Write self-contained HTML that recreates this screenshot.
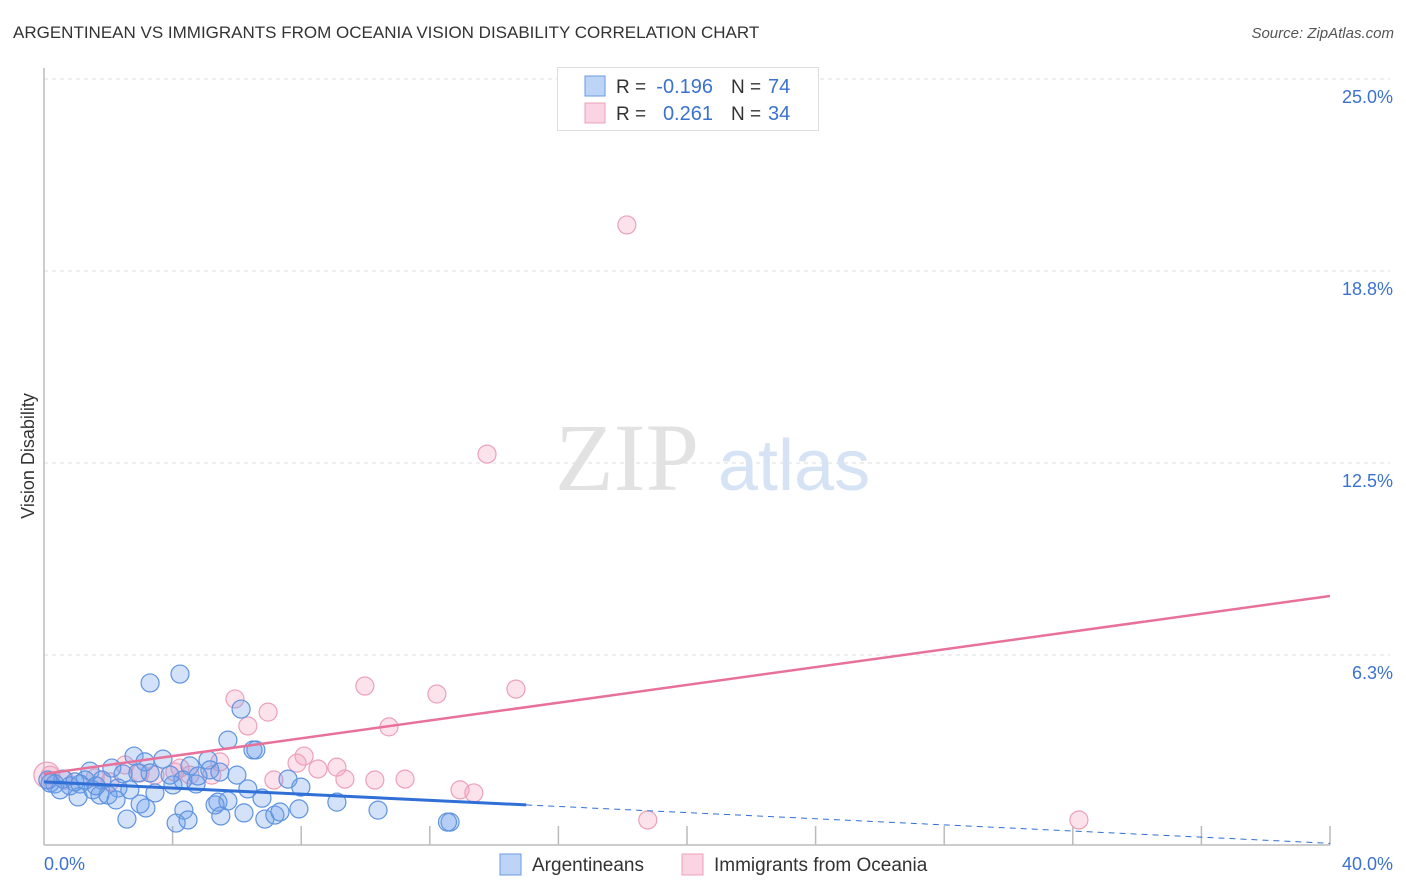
<!DOCTYPE html>
<html><head><meta charset="utf-8">
<style>
body{margin:0;background:#fff;font-family:"Liberation Sans",sans-serif;}
#wrap{position:relative;width:1406px;height:892px;overflow:hidden;}
.t{position:absolute;white-space:nowrap;}
</style></head>
<body>
<div id="wrap">
<div class="t" style="left:13px;top:23px;font-size:17px;color:#333;">ARGENTINEAN VS IMMIGRANTS FROM OCEANIA VISION DISABILITY CORRELATION CHART</div>
<div class="t" style="right:12px;top:25px;font-size:15px;color:#555;font-style:italic;">Source: ZipAtlas.com</div>
<svg id="plot" width="1406" height="892" style="position:absolute;left:0;top:0;font-family:'Liberation Sans',sans-serif;"></svg>
</div>
<script>
const xTicks=[0,4,8,12,16,20,24,28,32,36,40];
const yTicks=[6.25,12.5,18.75,25];
const yTickLabels=["6.3%","12.5%","18.8%","25.0%"];
const blueX=[3.30,4.23,6.13,5.72,6.50,6.59,2.80,3.70,3.14,5.10,2.11,1.43,6.00,7.59,7.99,4.73,5.16,2.46,1.80,0.59,0.34,0.81,1.12,1.52,2.30,2.67,3.45,1.74,1.99,1.06,2.24,2.99,4.01,4.32,4.54,5.41,5.72,6.78,9.11,6.34,4.35,3.17,2.58,4.11,4.48,5.50,6.22,6.87,7.18,7.34,7.93,10.39,12.63,0.19,0.50,1.28,1.62,0.96,5.47,4.79,3.92,3.30,2.92,5.32,0.12,12.55];
const blueY=[5.34,5.63,4.49,3.48,3.16,3.16,2.96,2.86,2.77,2.83,2.57,2.47,2.34,2.21,1.95,2.05,2.51,2.38,2.18,2.21,2.05,1.99,2.05,1.86,1.92,1.86,1.76,1.69,1.69,1.63,1.53,1.40,2.02,2.18,2.64,1.46,1.50,1.59,1.46,1.89,1.20,1.27,0.91,0.78,0.88,1.01,1.11,0.91,1.04,1.14,1.24,1.20,0.81,2.08,1.86,2.18,1.99,2.12,2.44,2.31,2.34,2.41,2.41,1.37,2.18,0.81];
const pinkX=[18.13,13.78,5.94,9.98,12.22,14.68,6.97,6.34,10.73,8.09,7.87,8.52,9.11,5.47,7.15,9.36,10.29,11.23,12.94,13.37,18.78,32.19,0.19,0.65,2.05,2.52,3.45,4.07,4.54,5.22,1.59,2.99,4.23,0.09];
const pinkY=[20.25,12.79,4.82,5.24,4.98,5.14,4.39,3.94,3.91,2.96,2.73,2.54,2.60,2.77,2.18,2.21,2.18,2.21,1.86,1.76,0.88,0.88,2.34,2.18,2.12,2.67,2.34,2.44,2.34,2.34,2.25,2.41,2.57,2.34];
const blueTrend=[2.12,-0.05];
const pinkTrend=[2.38,0.1448];

const X0=44,X1=1330,Y0=847,YPER=30.72;
const sx=v=>X0+(X1-X0)*v/40;
const sy=v=>Y0-v*YPER;
const svg=document.getElementById('plot');
const NS='http://www.w3.org/2000/svg';
function mk(tag,attrs){const e=document.createElementNS(NS,tag);for(const k in attrs)e.setAttribute(k,attrs[k]);svg.appendChild(e);return e;}

// gridlines
yTicks.forEach((v,i)=>{
 const g=mk('line',{x1:X0,x2:1390,y1:sy(v),y2:sy(v),stroke:'#ddd','stroke-dasharray':'4,4'});
 
 
 const t=mk('text',{x:1393,y:sy(v)+24,'text-anchor':'end','font-size':18,fill:'#3a72d0'});
 t.textContent=yTickLabels[i];
 
 
});
// axes
const ax=mk('line',{x1:X0,x2:X1,y1:845,y2:845,stroke:'#bbb','stroke-width':1.5});


const ay=mk('line',{x1:X0,x2:X0,y1:68,y2:845,stroke:'#bbb','stroke-width':1.5});


xTicks.forEach(v=>{
 if(v===0)return;
 const t=mk('line',{x1:sx(v),x2:sx(v),y1:826,y2:845,stroke:'#bbb','stroke-width':1.5});
 
 
});
const xl0=mk('text',{x:44,y:870,'font-size':18,fill:'#3a72d0'});xl0.textContent='0.0%';


const xl1=mk('text',{x:1393,y:870,'text-anchor':'end','font-size':18,fill:'#3a72d0'});xl1.textContent='40.0%';


const yt=mk('text',{x:34,y:456,'text-anchor':'middle','font-size':18,fill:'#333',transform:'rotate(-90 34 456)'});yt.textContent='Vision Disability';


// watermark
const wm=mk('text',{x:555,y:490,'font-size':96,fill:'#e2e2e2','font-family':'Liberation Serif, serif'});wm.textContent='ZIP';


const wm2=mk('text',{x:718,y:490,'font-size':72,fill:'#d5e3f5'});wm2.textContent='atlas';



// points
pinkX.forEach((x,i)=>{
 const c=mk('circle',{cx:sx(x),cy:sy(pinkY[i]),r:i===pinkX.length-1?13:9,fill:'rgba(244,160,190,0.3)',stroke:'#eca0ba','stroke-width':1.2});
 
 
});
blueX.forEach((x,i)=>{
 const c=mk('circle',{cx:sx(x),cy:sy(blueY[i]),r:9,fill:'rgba(110,160,235,0.3)',stroke:'#5f93e0','stroke-width':1.2});
 
 
});
// trends
const bl=mk('line',{x1:sx(0),y1:sy(blueTrend[0]),x2:sx(15),y2:sy(blueTrend[0]+blueTrend[1]*15),stroke:'#2f6fd6','stroke-width':3});


const bd=mk('line',{x1:sx(15),y1:sy(blueTrend[0]+blueTrend[1]*15),x2:sx(40),y2:sy(blueTrend[0]+blueTrend[1]*40),stroke:'#2f6fd6','stroke-width':1,'stroke-dasharray':'6,5'});


const pl=mk('line',{x1:sx(0),y1:sy(pinkTrend[0]),x2:sx(40),y2:sy(pinkTrend[0]+pinkTrend[1]*40),stroke:'#e8719a','stroke-width':2.5});



// top legend
const lb=mk('rect',{x:557.5,y:67.5,width:261,height:63,fill:'#fff',stroke:'#ddd'});


[[ 'rgba(110,160,235,0.45)','#6a9ae3','-0.196','74',86],['rgba(244,160,190,0.45)','#eca0ba','0.261','34',113]].forEach((r,i)=>{
 const s=mk('rect',{x:585,y:r[4]-10,width:20,height:20,fill:r[0],stroke:r[1]});
 
 
 const a=mk('text',{x:616,y:r[4]+7,'font-size':19,fill:'#333'});a.textContent='R =';
 
 
 const b=mk('text',{x:713,y:r[4]+7,'font-size':20,fill:'#3a72d0','text-anchor':'end'});b.textContent=r[2];
 
 
 const c=mk('text',{x:731,y:r[4]+7,'font-size':19,fill:'#333'});c.textContent='N =';
 
 
 const d=mk('text',{x:768,y:r[4]+7,'font-size':20,fill:'#3a72d0'});d.textContent=r[3];
 
 
});
// bottom legend
[[500,'rgba(110,160,235,0.45)','#6a9ae3','Argentineans'],[682,'rgba(244,160,190,0.45)','#eca0ba','Immigrants from Oceania']].forEach(r=>{
 const s=mk('rect',{x:r[0],y:854,width:21,height:21,fill:r[1],stroke:r[2]});
 
 
 const t=mk('text',{x:r[0]+32,y:871,'font-size':19,fill:'#333'});t.textContent=r[3];
 
 
});
</script>
</body></html>
